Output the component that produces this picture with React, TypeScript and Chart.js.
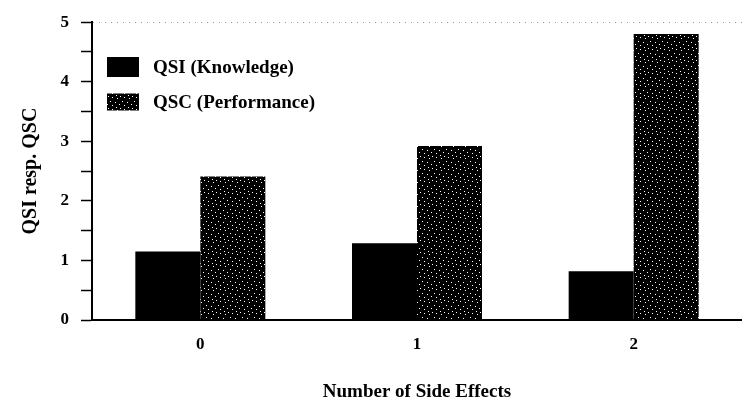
import React, { useEffect, useRef } from "react";
import { Chart, registerables } from "chart.js";

Chart.register(...registerables);

const categories = ["0", "1", "2"];
const qsiValues = [1.15, 1.29, 0.82];
const qscValues = [2.41, 2.92, 4.8];
const seriesLabels = ["QSI (Knowledge)", "QSC (Performance)"];
const yTickValues = [0, 1, 2, 3, 4, 5];

const FONT = '"Liberation Serif", "Times New Roman", serif';

function makePattern(): CanvasPattern | string {
  const c = document.createElement("canvas");
  c.width = 12;
  c.height = 12;
  const g = c.getContext("2d");
  if (!g) return "#111";
  g.fillStyle = "#000";
  g.fillRect(0, 0, 12, 12);
  g.fillStyle = "#fff";
  const dots = [
    [0, 0], [4, 1], [9, 2], [2, 5], [7, 6], [11, 8], [4, 9], [8, 11],
  ];
  dots.forEach(([x, y]) => g.fillRect(x, y, 1, 1));
  return g.createPattern(c, "repeat") || "#111";
}

const insideLegend = {
  id: "insideLegend",
  afterDraw(chart: any) {
    const ctx = chart.ctx;
    ctx.save();
    ctx.font = `bold 19px ${FONT}`;
    ctx.textBaseline = "middle";
    ctx.textAlign = "left";
    const rows = [
      { y: 67, h: 20 },
      { y: 102, h: 17 },
    ];
    chart.data.datasets.forEach((ds: any, i: number) => {
      const r = rows[i];
      ctx.fillStyle = ds.backgroundColor;
      ctx.fillRect(107, r.y - r.h / 2, 32, r.h);
      ctx.fillStyle = "#000";
      ctx.fillText(ds.label, 153, r.y + 1);
    });
    ctx.restore();
  },
};

export default function App() {
  const ref = useRef<HTMLCanvasElement | null>(null);

  useEffect(() => {
    document.body.style.margin = "0";
    if (!ref.current) return;
    const pattern = makePattern();
    const chart = new Chart(ref.current, {
      type: "bar",
      data: {
        labels: categories,
        datasets: [
          {
            label: seriesLabels[0],
            data: qsiValues,
            backgroundColor: "#000",
            borderWidth: 0,
            categoryPercentage: 0.6,
            barPercentage: 1.0,
          },
          {
            label: seriesLabels[1],
            data: qscValues,
            backgroundColor: pattern as any,
            borderWidth: 0,
            categoryPercentage: 0.6,
            barPercentage: 1.0,
          },
        ],
      },
      options: {
        animation: false,
        responsive: false,
        maintainAspectRatio: false,
        layout: { padding: { top: 15, right: 0, left: 0, bottom: 0 } },
        plugins: {
          legend: { display: false },
          tooltip: { enabled: false },
        },
        scales: {
          x: {
            offset: true,
            grid: { display: false, drawTicks: false },
            border: { display: true, color: "#000", width: 2 },
            ticks: {
              color: "#000",
              padding: 14,
              font: { family: FONT, size: 17, weight: "bold" },
            },
            title: {
              display: true,
              text: "Number of Side Effects",
              color: "#000",
              font: { family: FONT, size: 19, weight: "bold" },
              padding: { top: 0, bottom: 1 },
            },
            afterFit: (s: any) => {
              s.height = 84;
            },
          },
          y: {
            min: 0,
            max: 5,
            ticks: {
              stepSize: 0.5,
              color: "#000",
              padding: 12,
              font: { family: FONT, size: 17, weight: "bold" },
              callback: (v: any) =>
                yTickValues.includes(Number(v)) ? String(v) : "",
            },
            grid: {
              drawOnChartArea: true,
              drawTicks: true,
              tickLength: 11,
              tickColor: "#000",
              tickWidth: 1.5,
              color: (c: any) =>
                c.tick && c.tick.value === 5 ? "#999" : "rgba(0,0,0,0)",
            },
            border: { display: true, color: "#000", width: 2, dash: [1, 5] },
            title: {
              display: true,
              text: "QSI resp. QSC",
              color: "#000",
              font: { family: FONT, size: 20, weight: "bold" },
              padding: { top: 19, bottom: 0 },
            },
            afterFit: (s: any) => {
              s.width = 92;
            },
          },
        },
      },
      plugins: [insideLegend],
    });
    return () => chart.destroy();
  }, []);

  return (
    <div style={{ width: 742, height: 404 }}>
      <canvas ref={ref} width={742} height={404} />
    </div>
  );
}
